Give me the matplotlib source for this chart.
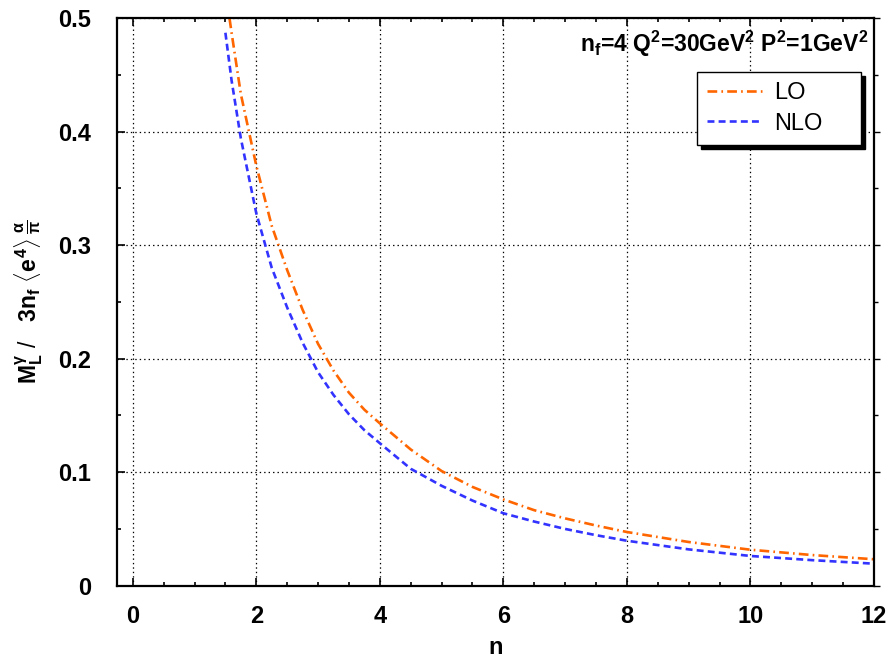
import matplotlib
matplotlib.use("Agg")
import matplotlib.pyplot as plt
from matplotlib.ticker import MultipleLocator

# values
n_vals = [1.5, 1.6, 1.75, 2.0, 2.25, 2.5, 2.75, 3.0, 3.25, 3.5, 3.75, 4.0,
          4.5, 5.0, 5.5, 6.0, 6.5, 7.0, 7.5, 8.0, 9.0, 10.0, 11.0, 12.0]
lo_vals = [0.525, 0.487, 0.433, 0.370, 0.317, 0.278, 0.243, 0.213, 0.1895,
           0.170, 0.155, 0.143, 0.120, 0.101, 0.087, 0.076, 0.0665, 0.0593,
           0.053, 0.0473, 0.0385, 0.0317, 0.027, 0.0233]
nlo_vals = [0.487, 0.445, 0.394, 0.328, 0.280, 0.245, 0.214, 0.188, 0.168,
            0.151, 0.137, 0.1255, 0.103, 0.088, 0.075, 0.0638, 0.0565, 0.050,
            0.0445, 0.0396, 0.032, 0.0262, 0.0225, 0.0194]
x_ticks = [0, 2, 4, 6, 8, 10, 12]
y_ticks = [0, 0.1, 0.2, 0.3, 0.4, 0.5]

plt.rcParams['font.family'] = ['Liberation Sans', 'DejaVu Sans']
plt.rcParams['mathtext.fontset'] = 'custom'
plt.rcParams['mathtext.rm'] = 'Liberation Sans:bold'
plt.rcParams['mathtext.it'] = 'Liberation Sans:bold'
plt.rcParams['mathtext.bf'] = 'Liberation Sans:bold'
plt.rcParams['lines.scale_dashes'] = False

fig = plt.figure(figsize=(8.88, 6.61), dpi=100)
ax = fig.add_axes([0.1321, 0.1139, 0.8521, 0.8589])

ax.plot(n_vals, lo_vals, color='#ff6600', lw=1.9, dashes=(7, 3, 1.2, 3), label='LO')
ax.plot(n_vals, nlo_vals, color='#3333ff', lw=1.9, dashes=(5, 3), label='NLO')

ax.set_xlim(-0.25, 12)
ax.set_ylim(0, 0.5)
ax.set_xticks(x_ticks)
ax.set_yticks(y_ticks)
ax.set_xticklabels([str(t) for t in x_ticks])
ax.set_yticklabels(['0' if t == 0 else f'{t:.1f}' for t in y_ticks])
ax.xaxis.set_minor_locator(MultipleLocator(0.5))
ax.yaxis.set_minor_locator(MultipleLocator(0.05))

ax.tick_params(which='both', direction='in', top=True, right=False, width=1.2)
ax.tick_params(which='major', length=6)
ax.tick_params(which='minor', length=3)
ax.tick_params(axis='x', pad=14, labelsize=17)
ax.tick_params(axis='y', pad=19, labelsize=17)
for lab in ax.get_xticklabels() + ax.get_yticklabels():
    lab.set_fontweight('bold')

for sp in ax.spines.values():
    sp.set_linewidth(1.6)

# right-hand ticks point outwards in the original
sec = ax.secondary_yaxis('right')
sec.set_yticks(y_ticks)
sec.yaxis.set_minor_locator(MultipleLocator(0.05))
sec.tick_params(which='both', direction='out', labelright=False, width=1.0)
sec.tick_params(which='major', length=4)
sec.tick_params(which='minor', length=3)
sec.spines['right'].set_visible(False)

ax.grid(True, which='major', color='black', lw=0.9, linestyle=(0, (1, 2.2)))

ax.set_xlabel('n', fontsize=17, fontweight='bold', labelpad=6)
ax.set_ylabel(r'$\mathbf{M}_{\mathbf{L}}^{\gamma}$ / $\ \ 3n_f\ \langle e^{4}\rangle\,\frac{\alpha}{\pi}$',
              fontsize=16.5, labelpad=9)

ax.text(0.992, 0.94, r'n$_\mathrm{f}$=4 Q$^\mathrm{2}$=30GeV$^\mathrm{2}$ P$^\mathrm{2}$=1GeV$^\mathrm{2}$',
        transform=ax.transAxes, ha='right', va='baseline', fontsize=16.5, fontweight='bold')

leg = ax.legend(loc='upper left', bbox_to_anchor=(0.7657, 0.776, 0.2173, 0.1294),
                mode='expand', borderaxespad=0,
                fontsize=17, handlelength=2.3, handletextpad=0.55, borderpad=0.45,
                labelspacing=0.35, fancybox=False, framealpha=1, edgecolor='black',
                shadow={'color': 'black', 'alpha': 1, 'ox': 3, 'oy': -3})
leg.get_frame().set_linewidth(1.0)

fig.savefig('out.png', dpi=100)
